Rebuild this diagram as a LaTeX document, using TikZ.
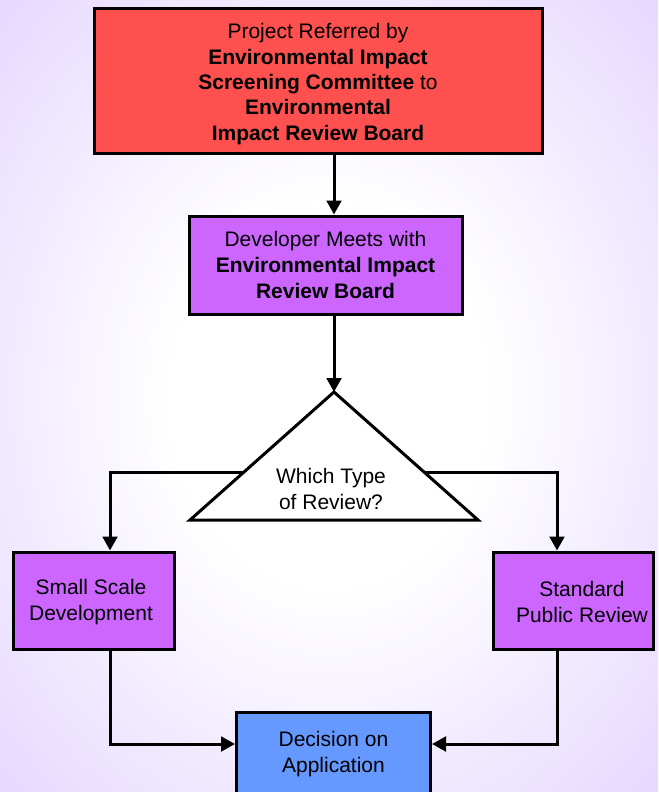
\documentclass[tikz,border=0pt]{standalone}
\usepackage{fontspec}
\setmainfont{Liberation Sans}
\usetikzlibrary{arrows.meta,calc}
\definecolor{bgout}{HTML}{D6C0FF}
\definecolor{redbox}{HTML}{FF5050}
\definecolor{purplebox}{HTML}{CC66FF}
\definecolor{bluebox}{HTML}{6699FF}
\pgfdeclareradialshading{bgshade}{\pgfpoint{0bp}{0bp}}{color(0bp)=(white); color(12bp)=(white); color(50bp)=(bgout)}
\begin{document}
\begin{tikzpicture}[x=0.75pt,y=-0.75pt,
  box/.style={draw=black,line width=2.25pt,align=center,inner sep=0pt,
    font=\fontsize{15.75}{19.5}\selectfont},
  lbl/.style={align=center,inner sep=0pt,font=\fontsize{15.75}{19.5}\selectfont},
  conn/.style={line width=2.25pt,-{Triangle[length=10.5pt,width=11pt]}}]
\useasboundingbox (0,0) rectangle (658,792);
\shade[shading=bgshade] (0,0) rectangle (658,792);
% top box
\node[box,fill=redbox,minimum width=336pt,minimum height=108pt] (top) at (318,81) {};
\node[lbl,font=\fontsize{15.75}{19}\selectfont] (toptext) at (318,84)
  {Project Referred by\\ \textbf{Environmental Impact}\\ \textbf{Screening Committee} to\\
   \textbf{Environmental}\\ \textbf{Impact Review Board}};
% developer box
\node[box,fill=purplebox,minimum width=204.75pt,minimum height=73.5pt] (dev) at (325.5,265)
  {Developer Meets with\\ \textbf{Environmental Impact}\\ \textbf{Review Board}};
% triangle
\coordinate (apex) at (334,392);
\coordinate (bl) at (190,520);
\coordinate (br) at (478,520);
\draw[line width=2.25pt,fill=white,line join=miter] (apex) -- (bl) -- (br) -- cycle;
\node[lbl] (q) at (331,489) {Which Type\\ of Review?};
\coordinate (tl) at ($(apex)!0.625!(bl)$);
\coordinate (tr) at ($(apex)!0.625!(br)$);
% side boxes
\node[box,fill=purplebox,minimum width=120.75pt,minimum height=72.75pt] (small) at (93.5,600.5) {};
\node[lbl] (smalltext) at (91,602) {Small Scale\\ Development};
\node[box,fill=purplebox,minimum width=120pt,minimum height=72.75pt] (std) at (573,600.5) {};
\node[lbl] (stdtext) at (582,602) {Standard\\ Public Review};
% decision box
\node[box,fill=bluebox,minimum width=145.5pt,minimum height=63pt] (dec) at (333.5,754)
  {Decision on\\ Application};
% connectors
\coordinate (cl) at (110,744);
\coordinate (cr) at (557,744);
\draw[conn] (top.south -| apex) -- (dev.north -| apex);
\draw[conn] (dev.south -| apex) -- (apex);
\draw[conn] (tl) -| (small.north -| cl);
\draw[conn] (tr) -| (std.north -| cr);
\draw[conn] (small.south -| cl) |- (dec.west |- cl);
\draw[conn] (std.south -| cr) |- (dec.east |- cr);
\end{tikzpicture}
\end{document}
